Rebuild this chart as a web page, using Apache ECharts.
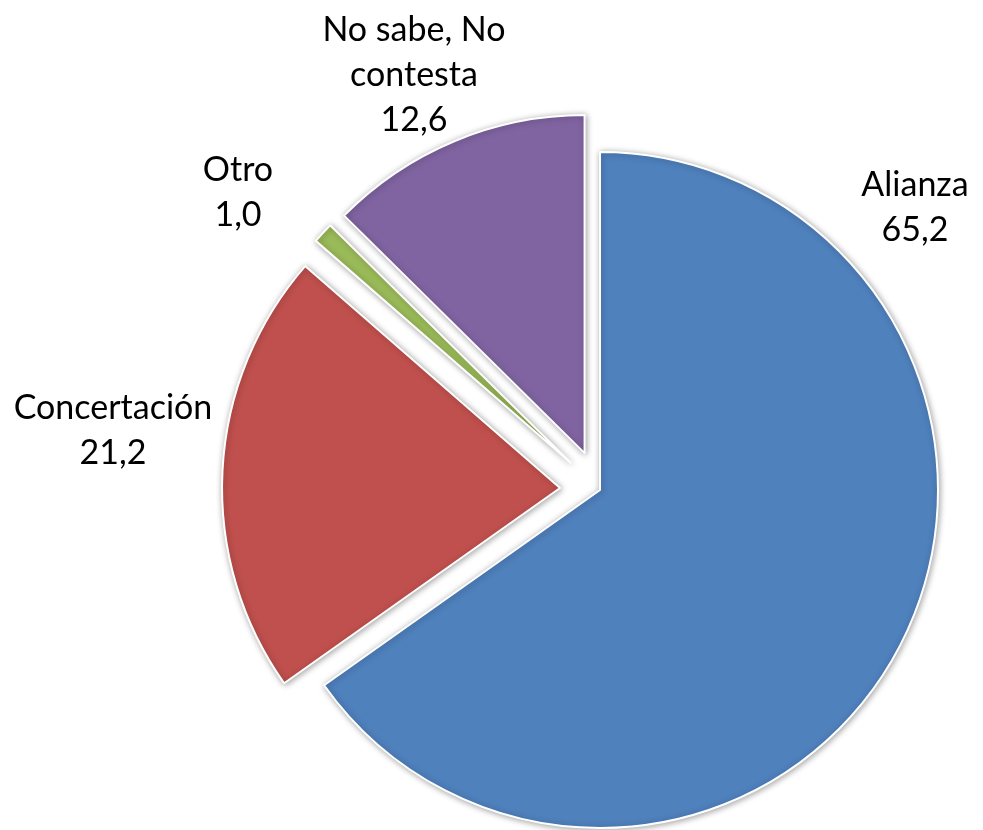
<!DOCTYPE html>
<html>
<head>
<meta charset="utf-8">
<script src="https://cdn.jsdelivr.net/npm/echarts@6/dist/echarts.min.js"></script>
<style>
html,body{margin:0;padding:0;background:#fff;}
#chart{width:983px;height:830px;}
</style>
</head>
<body>
<div id="chart"></div>
<script>
const categories = ['Alianza', 'Concertación', 'Otro', 'No sabe, No contesta'];
const labelNames = ['Alianza', 'Concertación', 'Otro', 'No sabe, No\ncontesta'];
const values = [65.2, 21.2, 1.0, 12.6];
const colors = ['#4F81BD', '#C0504D', '#9BBB59', '#8064A2'];
const explode = [0, 40, 40, 40];
const labelPos = [[915, 208], [113, 431], [238, 193], [414, 75]];

const chart = echarts.init(document.getElementById('chart'), null, {renderer: 'canvas'});

const common = {
  type: 'pie',
  center: [600, 490],
  radius: [0, 338],
  startAngle: 90,
  clockwise: true,
  silent: true,
  animation: false,
  emphasis: {disabled: true},
  labelLine: {show: false}
};

const sliceSeries = categories.map(function (cat, s) {
  return Object.assign({}, common, {
    selectedMode: 'multiple',
    selectedOffset: explode[s],
    label: {show: false},
    data: categories.map(function (c, i) {
      const visible = i === s;
      return {
        name: c,
        value: values[i],
        selected: visible && explode[s] > 0,
        itemStyle: visible ? {
          color: colors[i],
          borderColor: '#ffffff',
          borderWidth: 2,
          shadowBlur: 6,
          shadowColor: 'rgba(0,0,0,0.35)',
          shadowOffsetX: 1,
          shadowOffsetY: 1
        } : {color: 'rgba(0,0,0,0)', borderWidth: 0}
      };
    })
  });
});

const labelSeries = Object.assign({}, common, {
  selectedMode: false,
  itemStyle: {color: 'rgba(0,0,0,0)', borderWidth: 0},
  data: categories.map(function (c, i) {
    return {name: c, value: values[i]};
  }),
  label: {
    show: true,
    position: 'outside',
    overflow: 'none',
    fontFamily: 'Lato, "Open Sans", sans-serif',
    fontSize: 34,
    lineHeight: 45,
    color: '#000',
    align: 'center',
    formatter: function (p) {
      return labelNames[p.dataIndex] + '\n' + values[p.dataIndex].toFixed(1).replace('.', ',');
    }
  },
  labelLayout: function (p) {
    const pos = labelPos[p.dataIndex];
    return {x: pos[0], y: pos[1], align: 'center', verticalAlign: 'middle', hideOverlap: false, moveOverlap: null};
  }
});

chart.setOption({
  backgroundColor: '#ffffff',
  animation: false,
  series: sliceSeries.concat([labelSeries])
});
</script>
</body>
</html>
